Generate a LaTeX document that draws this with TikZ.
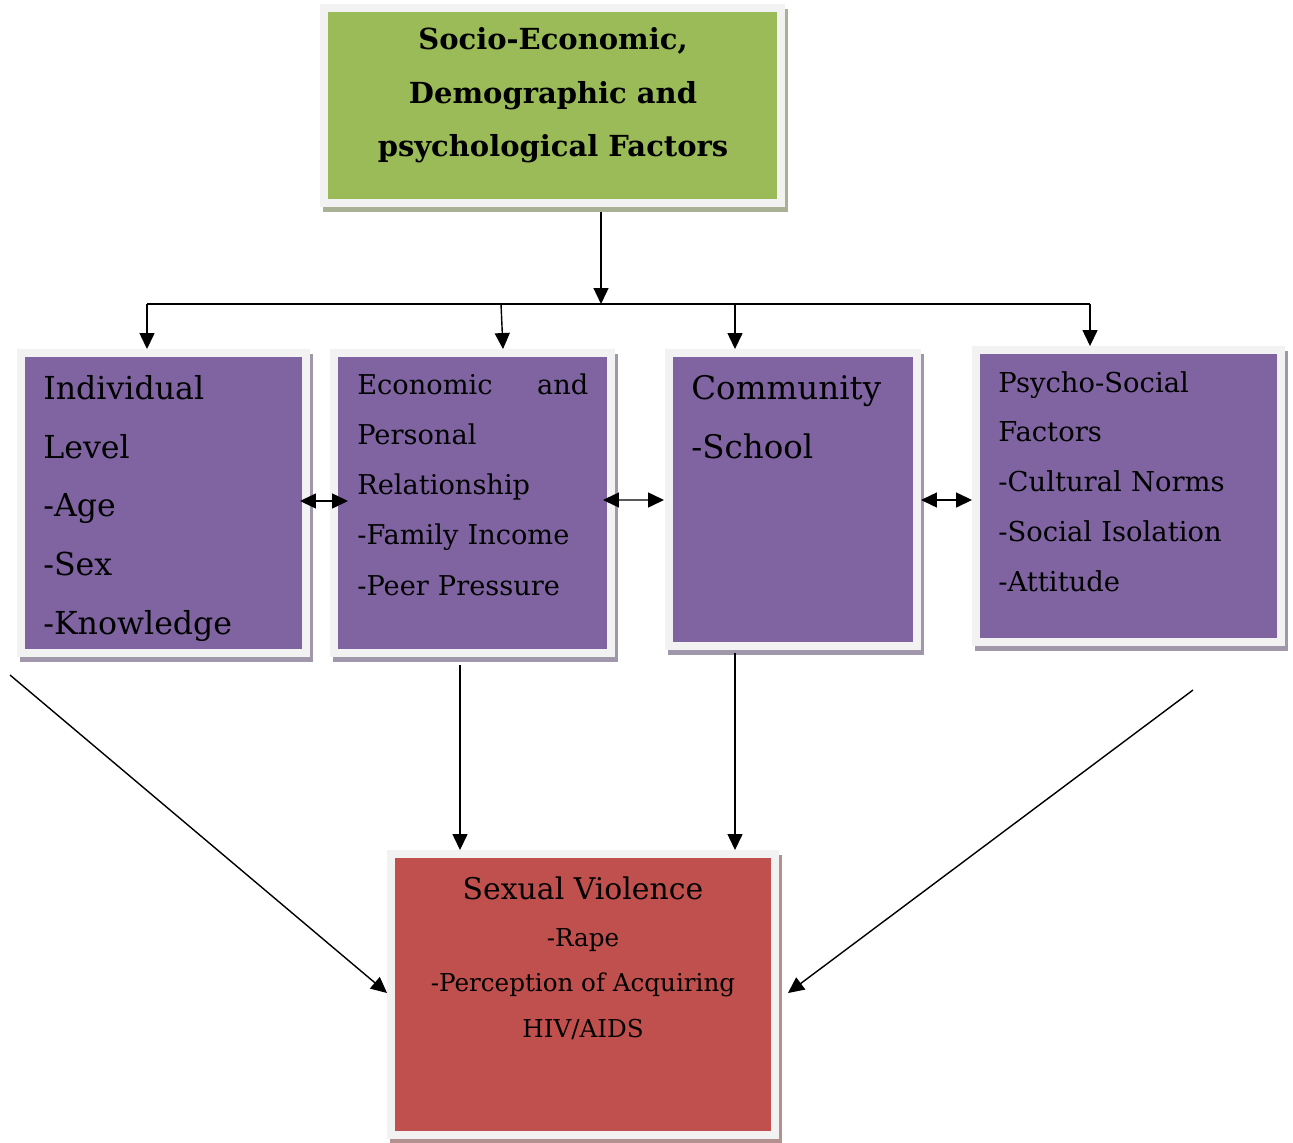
\documentclass[tikz,border=0pt]{standalone}
\usepackage{fontspec}
\setmainfont{DejaVu Serif}
\usepackage{xcolor}
\usetikzlibrary{calc,arrows.meta,backgrounds}

\definecolor{boxgreen}{HTML}{9BBB59}
\definecolor{boxpurple}{HTML}{8064A2}
\definecolor{boxred}{HTML}{C0504D}
\definecolor{framegray}{HTML}{F2F2F2}

\tikzstyle{box}=[rectangle, draw=framegray, line width=0.15cm, inner sep=0pt]
\tikzstyle{boxtext}=[inner sep=0pt, align=left]
\tikzstyle{arr}=[line width=0.8pt, -{Triangle[length=0.32cm,width=0.3cm]}]
\tikzstyle{dbl}=[line width=0.8pt, {Triangle[length=0.32cm,width=0.3cm]}-{Triangle[length=0.32cm,width=0.3cm]}]

\begin{document}
\begin{tikzpicture}[x=0.02cm, y=-0.02cm]
          \useasboundingbox (0,0) rectangle (1293,1142);
          % boxes
          \node[box, fill=boxgreen, minimum width=9.15cm, minimum height=3.91cm] (top) at (552.5,105.5) {};
          \node[box, fill=boxpurple, minimum width=5.71cm, minimum height=6.01cm] (indiv) at (163.5,503) {};
          \node[box, fill=boxpurple, minimum width=5.55cm, minimum height=6.01cm] (econ) at (472.5,503) {};
          \node[box, fill=boxpurple, minimum width=4.97cm, minimum height=5.87cm] (comm) at (793,499.5) {};
          \node[box, fill=boxpurple, minimum width=6.11cm, minimum height=5.85cm] (psycho) at (1128.5,496) {};
          \node[box, fill=boxred, minimum width=7.69cm, minimum height=5.63cm] (sv) at (583,994.5) {};
          % shadows
          \begin{scope}[on background layer]
            \foreach \n/\c in {top/boxgreen, indiv/boxpurple, econ/boxpurple, comm/boxpurple, psycho/boxpurple, sv/boxred}
              \fill[\c!40!gray!75] ($(\n.north west)+(3,5)$) rectangle ($(\n.south east)+(3,5)$);
          \end{scope}
          % texts
          \node[boxtext, anchor=north, align=center, font=\bfseries\fontsize{16.5}{30.6}\selectfont] (toptext) at (553,27) {Socio-Economic,\\Demographic and\\psychological Factors};
          \node[boxtext, anchor=north west, text width=5cm, font=\fontsize{18}{33.4}\selectfont] (indivtext) at (43,375) {Individual\\Level\\-Age\\-Sex\\-Knowledge};
          \node[boxtext, anchor=north west, text width=4.62cm, font=\fontsize{15.5}{28.6}\selectfont] (econtext) at (357,373) {Economic\hfill and\\Personal\\Relationship\\-Family Income\\-Peer Pressure};
          \node[boxtext, anchor=north west, text width=4.4cm, font=\fontsize{18.5}{33.4}\selectfont] (commtext) at (691,375) {Community\\-School};
          \node[boxtext, anchor=north west, text width=5.4cm, font=\fontsize{15.6}{28.3}\selectfont] (psychotext) at (998,371) {Psycho-Social\\Factors\\-Cultural Norms\\-Social Isolation\\-Attitude};
          \node[boxtext, anchor=north, font=\fontsize{17}{30}\selectfont] (svtitle) at (583,876) {Sexual Violence};
          \node[boxtext, anchor=north, align=center, font=\fontsize{14}{26}\selectfont] (svtext) at (583,928) {-Rape\\-Perception of Acquiring\\HIV/AIDS};
          % bus from the factors box
          \coordinate (bus) at (601,304);
          \coordinate (busl) at (147,304);
          \coordinate (bus2) at (501,304);
          \coordinate (bus3) at (735,304);
          \coordinate (busr) at (1090,304);
          \draw[arr] ($(top.south -| bus)+(0,5)$) -- (bus);
          \draw[line width=0.8pt] (busl) -- (busr);
          \draw[arr] (busl) -- (busl |- indiv.north);
          \draw[arr] (bus2) -- ($(bus2 |- econ.north)+(2,0)$);
          \draw[arr] (bus3) -- (bus3 |- comm.north);
          \draw[arr] (busr) -- (busr |- psycho.north);
          % links between levels
          \draw[dbl] ($(indiv.east)+(-10,-2)$) -- ($(econ.west)+(18,-2)$);
          \draw[dbl] ($(econ.east)+(-12,-3)$) -- ($(comm.west)+(-1,0.5)$);
          \draw[dbl] ($(comm.east)+(0,0.5)$) -- ($(comm.east -| psycho.west)+(0,0.5)$);
          % into sexual violence
          \draw[arr] ($(econ.south)+(-12.5,8)$) coordinate (e1) -- (e1 |- sv.north);
          \draw[arr] ($(comm.south)+(-58,3)$) coordinate (c1) -- (c1 |- sv.north);
          \coordinate (dl) at (10,675);
          \coordinate (dr) at (1193,690);
          \draw[arr] (dl) -- ($(sv.west)+(0,-1.5)$);
          \draw[arr] (dr) -- ($(sv.east)+(9,-1.5)$);
\end{tikzpicture}
\end{document}
